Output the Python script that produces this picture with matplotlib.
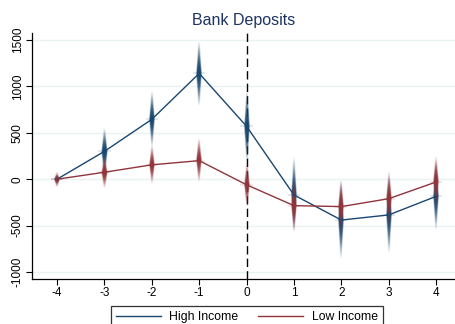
import numpy as np
import matplotlib
matplotlib.use("Agg")
import matplotlib.pyplot as plt
from matplotlib.lines import Line2D
from matplotlib.colors import to_rgb

plt.rcParams["font.family"] = ["Liberation Sans", "DejaVu Sans"]

# Event time relative to treatment
periods = [-4, -3, -2, -1, 0, 1, 2, 3, 4]

# Point estimates and 95% CI half-widths
high_est = [0, 300, 645, 1140, 570, -170, -440, -385, -185]
high_ci = [40, 250, 300, 350, 390, 400, 415, 410, 365]
low_est = [0, 75, 155, 200, -60, -285, -295, -210, -30]
low_ci = [80, 165, 205, 235, 240, 275, 285, 295, 270]

yticks = [-1000, -500, 0, 500, 1000, 1500]
xticks = periods

blue = "#1a476f"
red = "#90353b"

fig = plt.figure(figsize=(4.56, 3.24), dpi=100)
ax = fig.add_axes([0.070, 0.139, 0.93, 0.759])

xlim = (-4.53, 4.42)
ylim = (-1075, 1575)
ax.set_xlim(*xlim)
ax.set_ylim(*ylim)

# horizontal data units per pixel
x_per_px = (xlim[1] - xlim[0]) / (0.93 * 456)


def spindle(ax, xs, ys, cis, color, zo):
    """Draw each confidence interval as a spindle fading toward its ends."""
    rgb = np.array(to_rgb(color))
    rows, cols = 240, 41
    half_px = 5.0
    t = np.linspace(1, -1, rows)[:, None]          # +1 at top
    px = np.linspace(-half_px, half_px, cols)[None, :]
    at = np.abs(t)
    prof = np.clip((1 - at ** 2.0) ** 1.1, 0, 1) * 0.97 + 0.03 * (at < 1)
    hw = 0.7 + 1.9 * (1 - at) ** 1.5
    colmask = np.clip(hw - np.abs(px) + 0.5, 0, 1)
    alpha = prof * colmask
    img = np.zeros((rows, cols, 4))
    img[..., :3] = rgb
    img[..., 3] = alpha
    for x, y, c in zip(xs, ys, cis):
        ext = (x - half_px * x_per_px, x + half_px * x_per_px, y - c, y + c)
        ax.imshow(img, extent=ext, aspect="auto", interpolation="bilinear",
                  zorder=zo, origin="upper")
        # faint cross at the estimate
        ax.hlines(y, x - 0.13, x + 0.13, colors=color, linewidth=1.2,
                  alpha=0.15, zorder=zo)


spindle(ax, periods, high_est, high_ci, blue, 3)
spindle(ax, periods, low_est, low_ci, red, 3)

ax.plot(periods, high_est, color=blue, linewidth=1.0, zorder=4)
ax.plot(periods, low_est, color=red, linewidth=1.0, zorder=4)

ax.axvline(0, color="black", linestyle=(0, (6, 3)), linewidth=1.0, zorder=2)

ax.set_xlim(*xlim)
ax.set_ylim(*ylim)
ax.set_xticks(xticks)
ax.set_xticklabels([str(t) for t in xticks], fontsize=8.5)
ax.set_yticks(yticks)
ax.set_yticklabels([str(t) for t in yticks], fontsize=8.5, rotation=90,
                   va="center")
ax.grid(axis="y", color="#eaf2f3", linewidth=1.0, zorder=0)
ax.set_axisbelow(True)

for side in ("top", "right"):
    ax.spines[side].set_visible(False)
ax.spines["left"].set_linewidth(0.9)
ax.spines["bottom"].set_linewidth(0.9)
ax.tick_params(direction="out", length=4, width=0.8, pad=2)

ax.set_title("Bank Deposits", fontsize=11.5, color="#1e3364", pad=6)

handles = [Line2D([], [], color=blue, linewidth=1.0),
           Line2D([], [], color=red, linewidth=1.0)]
leg = fig.legend(handles, ["High Income", "Low Income"], ncol=2,
                 loc="upper center", bbox_to_anchor=(0.541, 0.0556),
                 borderaxespad=0, fontsize=8.8, frameon=True, fancybox=False,
                 edgecolor="black", handlelength=3.7, handletextpad=0.7,
                 columnspacing=1.6, borderpad=0.4)
leg.get_frame().set_linewidth(0.9)

fig.savefig("out.png", dpi=100)
